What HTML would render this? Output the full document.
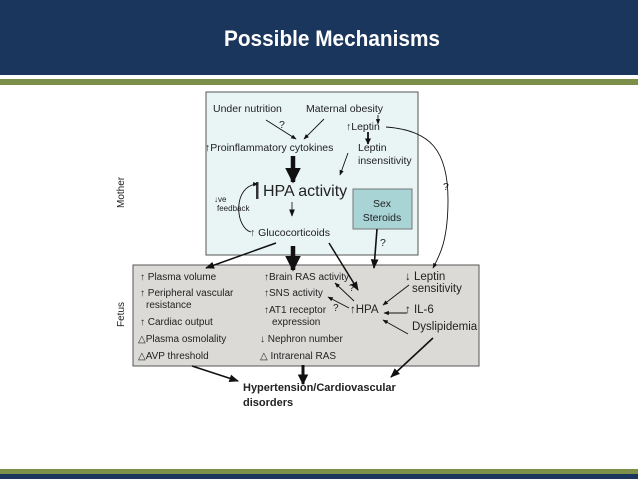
<!DOCTYPE html>
<html><head><style>
body{margin:0;width:638px;height:479px;overflow:hidden;background:#fff;font-family:"Liberation Sans",Arial,sans-serif}
</style></head><body>
<svg width="638" height="479" viewBox="0 0 638 479" xmlns="http://www.w3.org/2000/svg" font-family="Liberation Sans, Arial, sans-serif">
<defs>
<marker id="a" viewBox="0 0 10 10" refX="9" refY="5" markerWidth="6" markerHeight="6" orient="auto"><path d="M0,1 L10,5 L0,9 z" fill="#111"/></marker>
<marker id="b" viewBox="0 0 10 10" refX="9" refY="5" markerWidth="3.5" markerHeight="3.5" orient="auto"><path d="M0,0 L10,5 L0,10 z" fill="#111"/></marker>
</defs>
<rect x="0" y="0" width="638" height="75" fill="#1b365d"/>
<rect x="0" y="79" width="638" height="6" fill="#7b8f48"/>
<text x="332" y="46" font-size="22" font-weight="bold" fill="#fff" text-anchor="middle" textLength="216" lengthAdjust="spacingAndGlyphs">Possible Mechanisms</text>
<rect x="0" y="469" width="638" height="5" fill="#7b8f48"/>
<rect x="0" y="474" width="638" height="5" fill="#1b365d"/>

<rect x="206" y="92" width="212" height="163" fill="#e9f4f5" stroke="#555" stroke-width="1"/>
<rect x="353" y="189" width="59" height="40" fill="#a9d4d6" stroke="#777"/>
<rect x="133" y="265" width="346" height="101" fill="#dcdad7" stroke="#555"/>

<g font-size="10.5" fill="#222">
<text x="213" y="112">Under nutrition</text>
<text x="306" y="112">Maternal obesity</text>
<text x="279" y="128">?</text>
<text x="346" y="130">↑Leptin</text>
<text x="205" y="151">↑Proinflammatory cytokines</text>
<text x="358" y="151">Leptin</text>
<text x="358" y="164">insensitivity</text>
<text x="263" y="196" font-size="16">HPA activity</text>
<rect x="256" y="182" width="2.5" height="17" fill="#333"/>
<text x="214" y="202" font-size="8">↓ve</text>
<text x="217" y="211" font-size="8">feedback</text>
<text x="250" y="236">↑ Glucocorticoids</text>
<text x="382" y="207" text-anchor="middle">Sex</text>
<text x="382" y="221" text-anchor="middle">Steroids</text>
<text x="380" y="246">?</text>
<text x="443" y="190">?</text>
</g>
<g font-size="10" fill="#222">
<text x="140" y="280">↑ Plasma volume</text>
<text x="140" y="296">↑ Peripheral vascular</text>
<text x="146" y="308">resistance</text>
<text x="140" y="325">↑ Cardiac output</text>
<text x="138" y="342">△Plasma osmolality</text>
<text x="138" y="359">△AVP threshold</text>
<text x="264" y="280">↑Brain RAS activity</text>
<text x="264" y="296">↑SNS activity</text>
<text x="264" y="313">↑AT1 receptor</text>
<text x="272" y="325">expression</text>
<text x="260" y="342">↓  Nephron number</text>
<text x="260" y="359">△ Intrarenal RAS</text>
<text x="349" y="291">?</text>
<text x="333" y="311">?</text>
<text x="350" y="313" font-size="11.5">↑HPA</text>
<text x="405" y="280" font-size="11.5">↓ Leptin</text>
<text x="412" y="292" font-size="11.5">sensitivity</text>
<text x="405" y="313" font-size="11.5">↑ IL-6</text>
<text x="412" y="330" font-size="11.5">Dyslipidemia</text>
<text x="243" y="391" font-weight="bold" font-size="11">Hypertension/Cardiovascular</text>
<text x="243" y="406" font-weight="bold" font-size="11">disorders</text>
<text transform="translate(124,208) rotate(-90)">Mother</text>
<text transform="translate(124,327) rotate(-90)">Fetus</text>
</g>

<g stroke="#111" fill="none" stroke-width="0.9">
<line x1="266" y1="120" x2="296" y2="139" marker-end="url(#a)"/>
<line x1="324" y1="119" x2="304" y2="139" marker-end="url(#a)"/>
<line x1="378" y1="115" x2="378" y2="124" marker-end="url(#a)"/>
<line x1="368" y1="132" x2="368" y2="144" stroke-width="1.8" marker-end="url(#b)"/>
<line x1="348" y1="153" x2="340" y2="175" marker-end="url(#a)"/>
<line x1="293" y1="156" x2="293" y2="182" stroke-width="4.5" marker-end="url(#b)"/>
<line x1="292" y1="202" x2="292" y2="216" stroke="#555" stroke-width="1.2" marker-end="url(#a)"/>
<path d="M251,232 C235,228 232,185 258,184" marker-end="url(#a)"/>
<line x1="293" y1="246" x2="293" y2="270" stroke-width="4.5" marker-end="url(#b)"/>
<line x1="276" y1="243" x2="206" y2="268" stroke-width="1.5" marker-end="url(#a)"/>
<line x1="329" y1="243" x2="358" y2="290" stroke-width="1.5" marker-end="url(#a)"/>
<line x1="377" y1="229" x2="374" y2="268" stroke-width="1.6" marker-end="url(#a)"/>
<path d="M386,127 C430,130 448,150 448,200 C448,240 440,255 433,268" marker-end="url(#a)"/>
<line x1="354" y1="301" x2="335" y2="283" marker-end="url(#a)"/>
<line x1="349" y1="308" x2="328" y2="297" marker-end="url(#a)"/>
<line x1="407" y1="313" x2="384" y2="313" marker-end="url(#a)"/>
<line x1="409" y1="285" x2="383" y2="305" marker-end="url(#a)"/>
<line x1="408" y1="334" x2="383" y2="320" marker-end="url(#a)"/>
<line x1="192" y1="366" x2="238" y2="381" stroke-width="1.6" marker-end="url(#a)"/>
<line x1="303" y1="365" x2="303" y2="384" stroke-width="3" marker-end="url(#b)"/>
<line x1="433" y1="338" x2="391" y2="377" stroke-width="1.6" marker-end="url(#a)"/>
</g>
</svg>
</body></html>
